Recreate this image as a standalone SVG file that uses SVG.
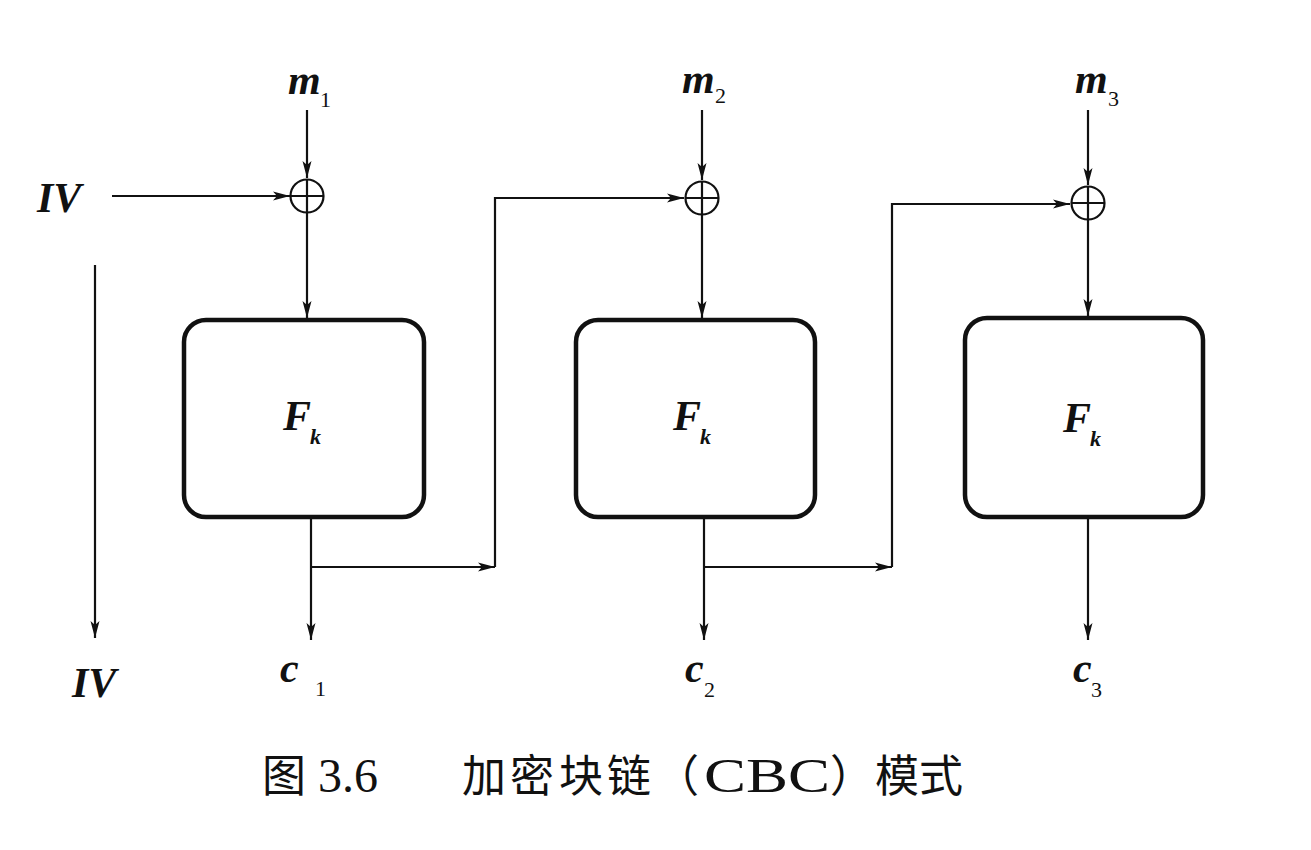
<svg xmlns="http://www.w3.org/2000/svg" width="1311" height="850" viewBox="0 0 1311 850">
<style>
.ln{stroke:#111;stroke-width:2.2;fill:none}
.box{stroke:#111;stroke-width:4.5;fill:#fff}
.xor{stroke:#111;stroke-width:2.2;fill:#fff}
.lbl{font-family:"Liberation Serif","DejaVu Serif",serif;font-style:italic;font-weight:bold;fill:#111}
.big{font-size:42px}
.sub{font-size:22px;font-style:normal;font-weight:normal}
.subk{font-size:22px;font-style:italic;font-weight:bold}
.cap{font-family:"Noto Sans CJK SC","Noto Sans CJK JP",sans-serif;font-size:44px;fill:#111}
.capn{font-family:"Liberation Serif",serif;font-size:48px;fill:#111}
</style>
<defs>
<marker id="ah" markerUnits="userSpaceOnUse" markerWidth="18" markerHeight="12" refX="17" refY="6" orient="auto">
<path d="M0,1.5 L17,6 L0,10.5 L4,6 z" fill="#111"/>
</marker>
</defs>
<rect width="1311" height="850" fill="#fff"/>
<g id="connectors">
<line class="ln" x1="307" y1="110" x2="307" y2="178" marker-end="url(#ah)"/>
<line class="ln" x1="112" y1="196" x2="290" y2="196" marker-end="url(#ah)"/>
<line class="ln" x1="307" y1="212" x2="307" y2="318" marker-end="url(#ah)"/>
<line class="ln" x1="311" y1="519" x2="311" y2="640" marker-end="url(#ah)"/>
<line class="ln" x1="311" y1="567" x2="495" y2="567" marker-end="url(#ah)"/>
<polyline class="ln" points="495,567 495,198 684,198" marker-end="url(#ah)"/>
<line class="ln" x1="95" y1="265" x2="95" y2="638" marker-end="url(#ah)"/>

<line class="ln" x1="702" y1="110" x2="702" y2="180" marker-end="url(#ah)"/>
<line class="ln" x1="702" y1="214" x2="702" y2="318" marker-end="url(#ah)"/>
<line class="ln" x1="704" y1="519" x2="704" y2="640" marker-end="url(#ah)"/>
<line class="ln" x1="704" y1="567" x2="892" y2="567" marker-end="url(#ah)"/>
<polyline class="ln" points="892,567 892,204 1070,204" marker-end="url(#ah)"/>

<line class="ln" x1="1088" y1="110" x2="1088" y2="185" marker-end="url(#ah)"/>
<line class="ln" x1="1088" y1="219" x2="1088" y2="316" marker-end="url(#ah)"/>
<line class="ln" x1="1088" y1="519" x2="1088" y2="640" marker-end="url(#ah)"/>
</g>
<g id="xor1"><circle class="xor" cx="307" cy="196" r="16.5"/><path class="ln" d="M290.5,196 H323.5 M307,179.5 V212.5"/></g>
<g id="xor2"><circle class="xor" cx="702" cy="198" r="16.5"/><path class="ln" d="M685.5,198 H718.5 M702,181.5 V214.5"/></g>
<g id="xor3"><circle class="xor" cx="1088" cy="203" r="16.5"/><path class="ln" d="M1071.5,203 H1104.5 M1088,186.5 V219.5"/></g>
<g id="box1"><rect class="box" x="184" y="320" width="240" height="197" rx="22"/>
<text class="lbl big" x="283" y="430">F<tspan class="subk" x="310" y="444">k</tspan></text></g>
<g id="box2"><rect class="box" x="576" y="320" width="239" height="197" rx="22"/>
<text class="lbl big" x="673" y="430">F<tspan class="subk" x="700" y="444">k</tspan></text></g>
<g id="box3"><rect class="box" x="965" y="318" width="238" height="199" rx="22"/>
<text class="lbl big" x="1063" y="432">F<tspan class="subk" x="1090" y="446">k</tspan></text></g>
<g id="labels">
<text class="lbl big" x="37" y="212">IV</text>
<text class="lbl big" x="72" y="697">IV</text>
<text class="lbl big" x="288" y="94">m<tspan class="sub" x="320" y="107">1</tspan></text>
<text class="lbl big" x="682" y="93">m<tspan class="sub" x="715" y="103">2</tspan></text>
<text class="lbl big" x="1075" y="93">m<tspan class="sub" x="1108" y="106">3</tspan></text>
<text class="lbl big" x="280" y="682">c<tspan class="sub" x="315" y="696">1</tspan></text>
<text class="lbl big" x="685" y="682">c<tspan class="sub" x="704" y="697">2</tspan></text>
<text class="lbl big" x="1073" y="682">c<tspan class="sub" x="1091" y="697">3</tspan></text>
</g>
<g id="caption">
<text class="cap" x="262" y="792">图</text>
<text class="capn" x="318" y="792">3.6</text>
<text class="cap" y="792"><tspan x="462">加</tspan><tspan x="510">密</tspan><tspan x="559">块</tspan><tspan x="607">链</tspan><tspan x="655">（</tspan></text>
<text class="capn" x="704" y="792" textLength="126" lengthAdjust="spacingAndGlyphs">CBC</text>
<text class="cap" y="792"><tspan x="830">）</tspan><tspan x="875">模</tspan><tspan x="919">式</tspan></text>
</g>
</svg>
